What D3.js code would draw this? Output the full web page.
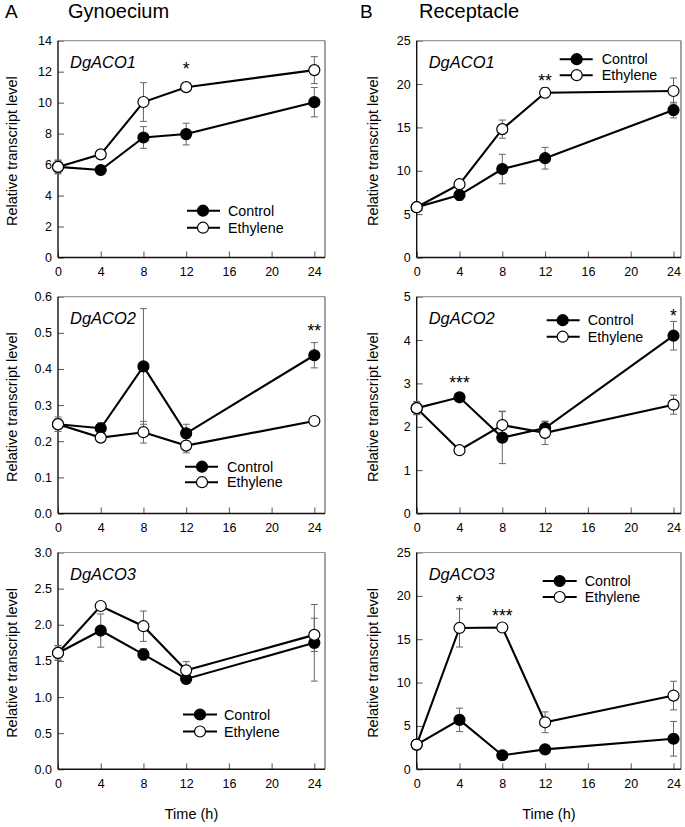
<!DOCTYPE html>
<html>
<head>
<meta charset="utf-8">
<script src="https://cdn.jsdelivr.net/npm/d3@7"></script>
<style>
  html, body { margin: 0; padding: 0; background: #fff; }
  svg { display: block; font-family: "Liberation Sans", Arial, sans-serif; }
</style>
</head>
<body>
<svg id="chart" width="685" height="827"></svg>
<script>
// ---------------- DATA ----------------
const times = [0, 4, 8, 12, 24];
const xTicks = [0, 4, 8, 12, 16, 20, 24];
const seriesNames = ["Control", "Ethylene"];
const geneLabels = ["DgACO1", "DgACO2", "DgACO3"];
const tissueTitles = ["Gynoecium", "Receptacle"];
const panelLetters = ["A", "B"];
const xAxisTitle = "Time (h)";
const yAxisTitle = "Relative transcript level";

// Gynoecium
const gynACO1Control    = [5.85, 5.65, 7.75, 7.97, 10.03];
const gynACO1ControlErr = [0.45, 0.2, 0.7, 0.7, 0.95];
const gynACO1Ethylene    = [5.85, 6.66, 10.04, 11.0, 12.1];
const gynACO1EthyleneErr = [0.4, 0.15, 1.25, 0.2, 0.87];

const gynACO2Control    = [0.247, 0.236, 0.407, 0.222, 0.438];
const gynACO2ControlErr = [0.02, 0.015, 0.16, 0.025, 0.035];
const gynACO2Ethylene    = [0.247, 0.21, 0.225, 0.188, 0.256];
const gynACO2EthyleneErr = [0.015, 0.005, 0.03, 0.02, 0.005];

const gynACO3Control    = [1.61, 1.92, 1.59, 1.25, 1.75];
const gynACO3ControlErr = [0.1, 0.23, 0.08, 0.06, 0.53];
const gynACO3Ethylene    = [1.61, 2.26, 1.98, 1.37, 1.86];
const gynACO3EthyleneErr = [0.1, 0.03, 0.21, 0.12, 0.23];

// Receptacle
const recACO1Control    = [5.8, 7.2, 10.2, 11.45, 17.0];
const recACO1ControlErr = [0.3, 0.6, 1.7, 1.25, 0.9];
const recACO1Ethylene    = [5.8, 8.45, 14.8, 19.0, 19.2];
const recACO1EthyleneErr = [0.3, 0.3, 1.05, 0.6, 1.5];

const recACO2Control    = [2.43, 2.68, 1.75, 1.97, 4.1];
const recACO2ControlErr = [0.15, 0.05, 0.6, 0.15, 0.33];
const recACO2Ethylene    = [2.43, 1.46, 2.04, 1.86, 2.51];
const recACO2EthyleneErr = [0.15, 0.05, 0.32, 0.27, 0.22];

const recACO3Control    = [2.85, 5.7, 1.62, 2.3, 3.52];
const recACO3ControlErr = [0.3, 1.35, 0.2, 0.3, 2.0];
const recACO3Ethylene    = [2.85, 16.3, 16.35, 5.42, 8.5];
const recACO3EthyleneErr = [0.3, 2.2, 0.2, 1.2, 1.65];

// y tick labels
const yTicksGynACO1 = [0, 2, 4, 6, 8, 10, 12, 14];
const yTicksGynACO2 = [0.0, 0.1, 0.2, 0.3, 0.4, 0.5, 0.6];
const yTicksGynACO3 = [0.0, 0.5, 1.0, 1.5, 2.0, 2.5, 3.0];
const yTicksRecACO1 = [0, 5, 10, 15, 20, 25];
const yTicksRecACO2 = [0, 1, 2, 3, 4, 5];
const yTicksRecACO3 = [0, 5, 10, 15, 20, 25];

// significance marks: time, value (centre of mark), label
const starsGynACO1 = [{t: 12, v: 12.43, s: "*"}];
const starsGynACO2 = [{t: 24, v: 0.516, s: "**"}];
const starsGynACO3 = [];
const starsRecACO1 = [{t: 12, v: 20.8, s: "**"}];
const starsRecACO2 = [{t: 4, v: 3.1, s: "***"}, {t: 24, v: 4.65, s: "*"}];
const starsRecACO3 = [{t: 4, v: 19.74, s: "*"}, {t: 8, v: 18.1, s: "***"}];

// ---------------- LAYOUT ----------------
const colLeft = [58, 416.7];
const colRight = [325, 681];
const colXMax = [25, 24.7];
const colYTitleX = [16.5, 378];
const rowTop = [40.7, 296.7, 552.5];
const rowH = 216.8;

const panels = [
  {col: 0, row: 0, c: gynACO1Control, ce: gynACO1ControlErr, e: gynACO1Ethylene, ee: gynACO1EthyleneErr, ticks: yTicksGynACO1, fmt: d3.format("d"), stars: starsGynACO1, leg: {x1: 129, x2: 162, mx: 145, tx: 170, y1: 170, y2: 187}},
  {col: 0, row: 1, c: gynACO2Control, ce: gynACO2ControlErr, e: gynACO2Ethylene, ee: gynACO2EthyleneErr, ticks: yTicksGynACO2, fmt: d3.format(".1f"), stars: starsGynACO2, leg: {x1: 127, x2: 160, mx: 144, tx: 169, y1: 170, y2: 185.5}},
  {col: 0, row: 2, c: gynACO3Control, ce: gynACO3ControlErr, e: gynACO3Ethylene, ee: gynACO3EthyleneErr, ticks: yTicksGynACO3, fmt: d3.format(".1f"), stars: starsGynACO3, leg: {x1: 125, x2: 159, mx: 142, tx: 166, y1: 162, y2: 179}},
  {col: 1, row: 0, c: recACO1Control, ce: recACO1ControlErr, e: recACO1Ethylene, ee: recACO1EthyleneErr, ticks: yTicksRecACO1, fmt: d3.format("d"), stars: starsRecACO1, leg: {x1: 143, x2: 176, mx: 160, tx: 185, y1: 18.5, y2: 34.5}},
  {col: 1, row: 1, c: recACO2Control, ce: recACO2ControlErr, e: recACO2Ethylene, ee: recACO2EthyleneErr, ticks: yTicksRecACO2, fmt: d3.format("d"), stars: starsRecACO2, leg: {x1: 130, x2: 163, mx: 146, tx: 171, y1: 23.5, y2: 40}},
  {col: 1, row: 2, c: recACO3Control, ce: recACO3ControlErr, e: recACO3Ethylene, ee: recACO3EthyleneErr, ticks: yTicksRecACO3, fmt: d3.format("d"), stars: starsRecACO3, leg: {x1: 126, x2: 160, mx: 143, tx: 168, y1: 28.5, y2: 44.5}}
];

const svg = d3.select("#chart");
const R = 5.5;

// column titles
[0, 1].forEach(ci => {
  svg.append("text").attr("x", ci === 0 ? 5 : 360).attr("y", 18)
    .attr("font-size", 19).text(panelLetters[ci]);
  svg.append("text").attr("x", ci === 0 ? 68 : 419).attr("y", 18)
    .attr("font-size", 20).text(tissueTitles[ci]);
});

panels.forEach(p => {
  const left = colLeft[p.col], right = colRight[p.col];
  const top = rowTop[p.row], bottom = top + rowH;
  const x = d3.scaleLinear().domain([0, colXMax[p.col]]).range([left, right]);
  const y = d3.scaleLinear().domain([p.ticks[0], p.ticks[p.ticks.length - 1]]).range([bottom, top]);
  const g = svg.append("g");

  // axes
  const xa = g.append("g").attr("transform", `translate(0,${bottom})`)
    .call(d3.axisBottom(x).tickValues(xTicks).tickFormat(d3.format("d"))
      .tickSizeInner(-6).tickSizeOuter(0).tickPadding(10));
  const ya = g.append("g").attr("transform", `translate(${left},0)`)
    .call(d3.axisLeft(y).tickValues(p.ticks).tickFormat(p.fmt)
      .tickSizeInner(-6).tickSizeOuter(0).tickPadding(6));
  [xa, ya].forEach(a => {
    a.select(".domain").remove();
    a.selectAll(".tick line").attr("stroke", "#555").attr("stroke-width", 1);
    a.selectAll(".tick text").attr("font-size", 12.5).attr("fill", "#000")
      .attr("font-family", "'Liberation Sans', Arial, sans-serif");
  });

  // frame
  g.append("line").attr("x1", left).attr("x2", right).attr("y1", top).attr("y2", top)
    .attr("stroke", "#999").attr("stroke-width", 1.2);
  g.append("line").attr("x1", right).attr("x2", right).attr("y1", top).attr("y2", bottom)
    .attr("stroke", "#666").attr("stroke-width", 1.2);
  g.append("line").attr("x1", left).attr("x2", right).attr("y1", bottom).attr("y2", bottom)
    .attr("stroke", "#111").attr("stroke-width", 1.4);
  g.append("line").attr("x1", left).attr("x2", left).attr("y1", top).attr("y2", bottom)
    .attr("stroke", "#111").attr("stroke-width", 1.4);

  // y title
  g.append("text")
    .attr("transform", `translate(${colYTitleX[p.col]},${(top + bottom) / 2 + 2}) rotate(-90)`)
    .attr("text-anchor", "middle").attr("font-size", 14.5).text(yAxisTitle);

  // gene label
  g.append("text").attr("x", left + 12).attr("y", top + 27)
    .attr("font-size", 16.5).attr("font-style", "italic").text(geneLabels[p.row]);

  const series = [
    {vals: p.c, errs: p.ce, fill: "#000"},
    {vals: p.e, errs: p.ee, fill: "#fff"}
  ];

  // error bars
  series.forEach(s => {
    s.vals.forEach((v, i) => {
      const xx = x(times[i]);
      const y1 = y(v + s.errs[i]), y2 = y(v - s.errs[i]);
      g.append("line").attr("x1", xx).attr("x2", xx).attr("y1", y1).attr("y2", y2)
        .attr("stroke", "#666").attr("stroke-width", 1);
      [y1, y2].forEach(yy => g.append("line").attr("x1", xx - 3.5).attr("x2", xx + 3.5)
        .attr("y1", yy).attr("y2", yy).attr("stroke", "#666").attr("stroke-width", 1));
    });
  });

  // lines
  const line = d3.line().x((d, i) => x(times[i])).y(d => y(d));
  series.forEach(s => {
    g.append("path").datum(s.vals).attr("d", line)
      .attr("fill", "none").attr("stroke", "#000").attr("stroke-width", 2.1);
  });

  // markers
  series.forEach(s => {
    g.selectAll(null).data(s.vals).enter().append("circle")
      .attr("cx", (d, i) => x(times[i])).attr("cy", d => y(d)).attr("r", R)
      .attr("fill", s.fill).attr("stroke", "#000").attr("stroke-width", 1.2);
  });

  // stars
  p.stars.forEach(st => {
    g.append("text").attr("x", x(st.t)).attr("y", y(st.v) + 10)
      .attr("text-anchor", "middle").attr("font-size", 17.5).text(st.s);
  });

  // legend
  const L = p.leg;
  [L.y1, L.y2].forEach((ly, k) => {
    const yy = top + ly;
    g.append("line").attr("x1", left + L.x1).attr("x2", left + L.x2).attr("y1", yy).attr("y2", yy)
      .attr("stroke", "#000").attr("stroke-width", 2.1);
    g.append("circle").attr("cx", left + L.mx).attr("cy", yy).attr("r", R)
      .attr("fill", k === 0 ? "#000" : "#fff").attr("stroke", "#000").attr("stroke-width", 1.2);
    g.append("text").attr("x", left + L.tx).attr("y", yy + 5).attr("font-size", 14.3)
      .text(seriesNames[k]);
  });

  // x title (bottom row)
  if (p.row === 2) {
    g.append("text").attr("x", (left + right) / 2).attr("y", 819)
      .attr("text-anchor", "middle").attr("font-size", 14.5).text(xAxisTitle);
  }
});
</script>
</body>
</html>
